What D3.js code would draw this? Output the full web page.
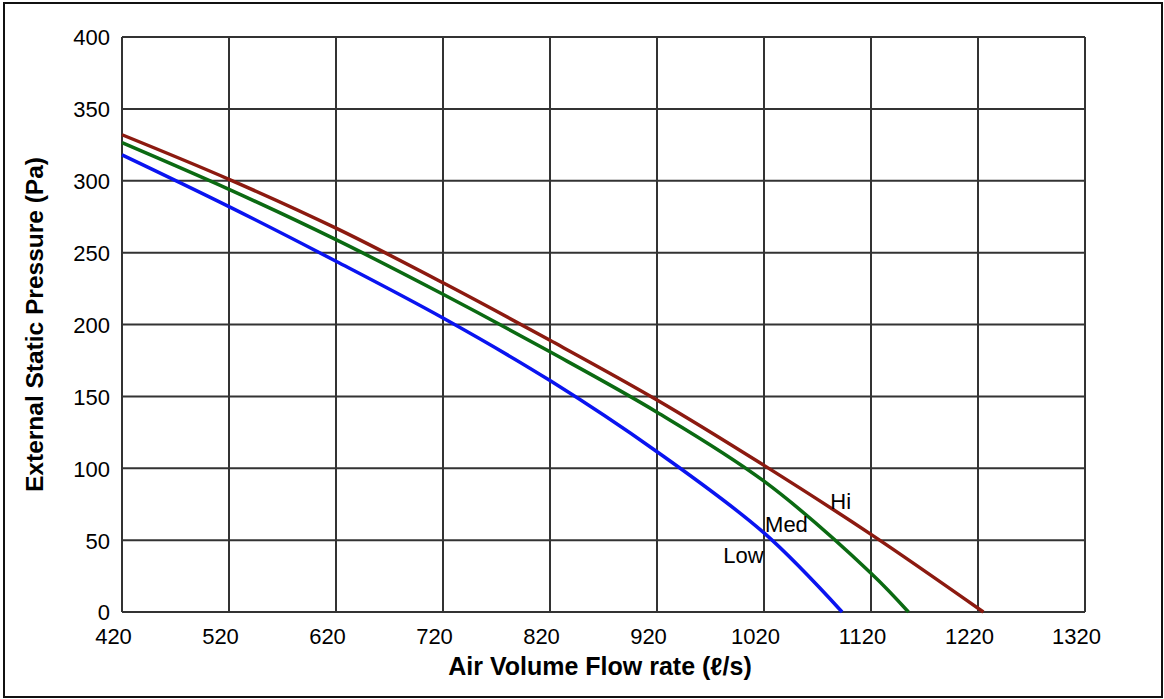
<!DOCTYPE html>
<html>
<head>
<meta charset="utf-8">
<script src="https://cdn.jsdelivr.net/npm/d3@7"></script>
<style>
  body { margin: 0; background: #fff; }
  svg text { font-family: "Liberation Sans", Arial, sans-serif; fill: #000; }
</style>
</head>
<body>
<div id="GraphHolder"></div>
<script>
// data
var xTicks = [420, 520, 620, 720, 820, 920, 1020, 1120, 1220, 1320];
var yTicks = [0, 50, 100, 150, 200, 250, 300, 350, 400];

var hiFlow  = [420, 520, 620, 720, 820, 920, 1020, 1120, 1225];
var hiPa    = [332, 301, 267, 229, 189, 147.5, 102, 54, 0];
var medFlow = [420, 520, 620, 720, 820, 920, 1020, 1120, 1155];
var medPa   = [326.5, 294, 259, 221, 181, 139, 91, 27, 0];
var lowFlow = [420, 520, 620, 720, 820, 920, 1020, 1093];
var lowPa   = [318, 282, 244, 204.5, 161, 111.5, 55, 0];

var seriesNames = ["Hi", "Med", "Low"];
var seriesColors = ["#8c1a10", "#0b6a12", "#0a14f0"];
// where each curve name sits, in data units (flow, pressure)
var labelFlow = [1082, 1021, 982];
var labelPa   = [72, 56, 34];

var series = [
    {x: hiFlow,  y: hiPa},
    {x: medFlow, y: medPa},
    {x: lowFlow, y: lowPa}
];

// set the dimensions and margins of the graph
var W = 1164, H = 699;
var margin = {top: 37, right: 79, bottom: 87, left: 122},
    width = W - margin.left - margin.right,
    height = H - margin.top - margin.bottom;

var root = d3.select("#GraphHolder").append("svg")
    .attr("width", W)
    .attr("height", H);

// outer frame
root.append("rect")
    .attr("x", 4).attr("y", 3)
    .attr("width", 1158).attr("height", 694)
    .style("fill", "none")
    .style("stroke", "#111")
    .style("stroke-width", 2);

var svg = root.append("g")
    .attr("transform", "translate(" + margin.left + "," + margin.top + ")");

var x = d3.scaleLinear().domain([420, 1320]).range([0, width]);
var y = d3.scaleLinear().domain([0, 400]).range([height, 0]);

// grid
var grid = svg.append("g").attr("class", "grid");
grid.selectAll("line.v")
    .data(xTicks)
    .enter().append("line")
    .attr("class", "v")
    .attr("x1", function(d) { return x(d); })
    .attr("x2", function(d) { return x(d); })
    .attr("y1", 0)
    .attr("y2", height);
grid.selectAll("line.h")
    .data(yTicks)
    .enter().append("line")
    .attr("class", "h")
    .attr("x1", 0)
    .attr("x2", width)
    .attr("y1", function(d) { return y(d); })
    .attr("y2", function(d) { return y(d); });
grid.selectAll("line")
    .style("stroke", "#333")
    .style("stroke-width", 2);

// axes (labels only)
var xAxis = svg.append("g")
    .attr("transform", "translate(0," + height + ")")
    .call(d3.axisBottom(x).tickValues(xTicks).tickSize(0).tickPadding(0).tickFormat(d3.format("d")));
xAxis.select(".domain").remove();
xAxis.selectAll("text")
    .attr("dx", -9)
    .attr("y", 32)
    .attr("dy", 0)
    .style("font-size", "22px");

var yAxis = svg.append("g")
    .call(d3.axisLeft(y).tickValues(yTicks).tickSize(0).tickPadding(12).tickFormat(d3.format("d")));
yAxis.select(".domain").remove();
yAxis.selectAll("text")
    .attr("dy", "0.36em")
    .style("font-size", "22px");

// curves
var line = d3.line()
    .x(function(d) { return x(d[0]); })
    .y(function(d) { return y(d[1]); })
    .curve(d3.curveCatmullRom.alpha(0.5));

series.forEach(function(s, i) {
    var pts = s.x.map(function(v, j) { return [v, s.y[j]]; });
    svg.append("path")
        .datum(pts)
        .attr("d", line)
        .style("fill", "none")
        .style("stroke", seriesColors[i])
        .style("stroke-width", 3.5);
    svg.append("text")
        .attr("x", x(labelFlow[i]))
        .attr("y", y(labelPa[i]))
        .style("font-size", "22px")
        .text(seriesNames[i]);
});

// axis titles
root.append("text")
    .attr("x", 600)
    .attr("y", 675)
    .style("text-anchor", "middle")
    .style("font-size", "25px")
    .style("font-weight", "bold")
    .text("Air Volume Flow rate (ℓ/s)");

root.append("text")
    .attr("transform", "translate(43," + (margin.top + height / 2) + ") rotate(-90)")
    .style("text-anchor", "middle")
    .style("font-size", "24.5px")
    .style("font-weight", "bold")
    .text("External Static Pressure (Pa)");
</script>
</body>
</html>
